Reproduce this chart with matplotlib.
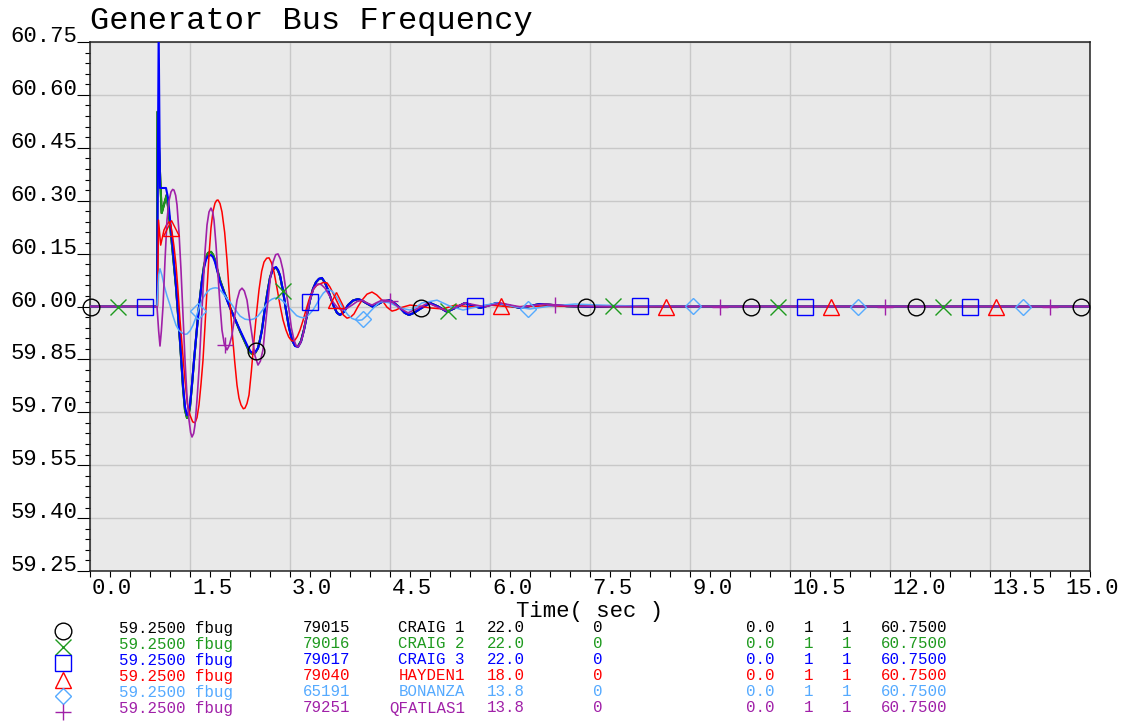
import numpy as np
import matplotlib
matplotlib.use("Agg")
import matplotlib.pyplot as plt
import matplotlib.transforms as mtransforms
from matplotlib.ticker import MultipleLocator, FormatStrFormatter

plt.rcParams.update({"font.family": ["Liberation Mono", "DejaVu Sans Mono"], "font.size": 16})

# (time s, frequency Hz)
craig3 = [
    (0.0, 60.000), (1.0, 60.000), (1.005, 60.000), (1.03, 60.780), (1.05, 60.336),
    (1.14, 60.336), (1.17, 60.308), (1.23, 60.189), (1.29, 60.061), (1.35, 59.905),
    (1.395, 59.777), (1.425, 59.715), (1.455, 59.692), (1.48, 59.700), (1.50, 59.721),
    (1.53, 59.780), (1.56, 59.848), (1.60, 59.930), (1.635, 59.999), (1.675, 60.065),
    (1.71, 60.109), (1.74, 60.133), (1.77, 60.143), (1.815, 60.146), (1.845, 60.140),
    (1.875, 60.126), (1.91, 60.100), (1.95, 60.070), (2.02, 60.035), (2.10, 59.996),
    (2.25, 59.933), (2.37, 59.885), (2.41, 59.872), (2.445, 59.868), (2.48, 59.871),
    (2.52, 59.882), (2.55, 59.905), (2.58, 59.933), (2.625, 59.995), (2.67, 60.047),
    (2.70, 60.080), (2.73, 60.098), (2.76, 60.109), (2.79, 60.112), (2.82, 60.104),
    (2.85, 60.089), (2.895, 60.045), (2.94, 59.990), (2.985, 59.940), (3.03, 59.905),
    (3.075, 59.888), (3.12, 59.885), (3.165, 59.900), (3.21, 59.933), (3.255, 59.975),
    (3.30, 60.018), (3.345, 60.050), (3.39, 60.069), (3.435, 60.079), (3.48, 60.081),
    (3.525, 60.068), (3.57, 60.047), (3.615, 60.022), (3.66, 59.999), (3.705, 59.982),
    (3.75, 59.976), (3.81, 59.985), (3.87, 60.004), (3.945, 60.017), (4.02, 60.021),
    (4.08, 60.017), (4.14, 60.010), (4.245, 59.999), (4.38, 60.013), (4.50, 60.018),
    (4.575, 60.008), (4.65, 59.996), (4.72, 59.982), (4.785, 59.976), (4.86, 59.982),
    (4.95, 59.993), (5.10, 60.010), (5.22, 60.000), (5.355, 59.985), (5.49, 59.997),
    (5.625, 60.010), (5.85, 59.996), (6.105, 60.010), (6.45, 59.996), (6.75, 60.007),
    (7.155, 60.001), (7.545, 59.999), (7.95, 60.001), (8.85, 60.000), (15.0, 60.000),
]

craig2 = [
    (0.0, 60.000), (1.0, 60.000), (1.005, 60.000), (1.0125, 60.552), (1.075, 60.265),
    (1.15, 60.316), (1.185, 60.259), (1.23, 60.174), (1.29, 60.055), (1.35, 59.900),
    (1.395, 59.770), (1.425, 59.706), (1.455, 59.684), (1.48, 59.694), (1.50, 59.716),
    (1.53, 59.778), (1.56, 59.845), (1.60, 59.930), (1.635, 60.000), (1.675, 60.068),
    (1.71, 60.115), (1.74, 60.140), (1.77, 60.152), (1.815, 60.155), (1.845, 60.147),
    (1.875, 60.132), (1.91, 60.104), (1.95, 60.075), (2.02, 60.037), (2.10, 59.998),
    (2.25, 59.930), (2.37, 59.880), (2.41, 59.868), (2.445, 59.865), (2.48, 59.869),
    (2.52, 59.882), (2.55, 59.906), (2.58, 59.935), (2.625, 59.997), (2.67, 60.050),
    (2.70, 60.082), (2.73, 60.100), (2.76, 60.108), (2.79, 60.110), (2.82, 60.102),
    (2.85, 60.087), (2.895, 60.044), (2.94, 59.990), (2.985, 59.941), (3.03, 59.905),
    (3.075, 59.889), (3.12, 59.887), (3.165, 59.902), (3.21, 59.935), (3.255, 59.976),
    (3.30, 60.018), (3.345, 60.050), (3.39, 60.069), (3.435, 60.078), (3.48, 60.080),
    (3.525, 60.067), (3.57, 60.047), (3.615, 60.022), (3.66, 59.999), (3.705, 59.982),
    (3.75, 59.976), (3.81, 59.985), (3.87, 60.004), (3.945, 60.017), (4.02, 60.021),
    (4.08, 60.017), (4.14, 60.010), (4.245, 59.999), (4.38, 60.013), (4.50, 60.018),
    (4.575, 60.008), (4.65, 59.996), (4.72, 59.982), (4.785, 59.976), (4.86, 59.982),
    (4.95, 59.993), (5.10, 60.010), (5.22, 60.000), (5.355, 59.985), (5.49, 59.997),
    (5.625, 60.010), (5.85, 59.996), (6.105, 60.010), (6.45, 59.996), (6.75, 60.007),
    (7.155, 60.001), (7.545, 59.999), (7.95, 60.001), (8.85, 60.000), (15.0, 60.000),
]

# CRAIG 1 runs underneath CRAIG 2 for the whole trace
craig1 = craig2

hayden1 = [
    (0.0, 60.000), (1.0, 60.000), (1.0125, 60.001), (1.0275, 60.245), (1.06, 60.174),
    (1.11, 60.217), (1.15, 60.232), (1.185, 60.240), (1.21, 60.232), (1.23, 60.211),
    (1.26, 60.170), (1.29, 60.118), (1.32, 60.045), (1.35, 59.962), (1.39, 59.870),
    (1.425, 59.790), (1.46, 59.725), (1.50, 59.692), (1.54, 59.673), (1.575, 59.670),
    (1.605, 59.685), (1.635, 59.721), (1.665, 59.780), (1.695, 59.848), (1.725, 59.945),
    (1.755, 60.047), (1.785, 60.145), (1.815, 60.223), (1.845, 60.270), (1.875, 60.293),
    (1.90, 60.301), (1.92, 60.302), (1.95, 60.292), (1.98, 60.268), (2.02, 60.210),
    (2.055, 60.132), (2.09, 60.035), (2.13, 59.933), (2.17, 59.845), (2.205, 59.777),
    (2.235, 59.740), (2.265, 59.721), (2.30, 59.710), (2.325, 59.712), (2.355, 59.725),
    (2.385, 59.749), (2.42, 59.815), (2.46, 59.905), (2.50, 59.985), (2.535, 60.047),
    (2.575, 60.100), (2.61, 60.126), (2.65, 60.137), (2.685, 60.138), (2.72, 60.125),
    (2.76, 60.098), (2.805, 60.052), (2.85, 60.004), (2.895, 59.962), (2.94, 59.933),
    (2.98, 59.914), (3.015, 59.905), (3.045, 59.902), (3.075, 59.905), (3.11, 59.915),
    (3.15, 59.933), (3.195, 59.960), (3.24, 59.990), (3.29, 60.022), (3.345, 60.047),
    (3.40, 60.060), (3.45, 60.064), (3.50, 60.068), (3.555, 60.067), (3.60, 60.055),
    (3.645, 60.038), (3.70, 60.016), (3.75, 59.996), (3.80, 59.976), (3.855, 59.967),
    (3.91, 59.970), (3.96, 59.979), (4.02, 60.000), (4.08, 60.018), (4.155, 60.035),
    (4.23, 60.041), (4.30, 60.033), (4.38, 60.018), (4.455, 59.998), (4.53, 59.987),
    (4.59, 59.990), (4.65, 59.996), (4.80, 60.004), (4.95, 60.001), (5.10, 59.996),
    (5.295, 59.993), (5.475, 60.004), (5.70, 59.999), (6.00, 60.004), (6.30, 59.999),
    (6.75, 60.001), (7.65, 60.000), (15.0, 60.000),
]

bonanza = [
    (0.0, 60.000), (1.0, 60.000), (1.005, 60.000), (1.03, 60.090), (1.05, 60.107),
    (1.08, 60.088), (1.11, 60.061), (1.155, 60.030), (1.20, 60.004), (1.245, 59.973),
    (1.29, 59.947), (1.335, 59.932), (1.38, 59.925), (1.42, 59.921), (1.455, 59.922),
    (1.50, 59.931), (1.545, 59.947), (1.60, 59.975), (1.65, 60.004), (1.70, 60.026),
    (1.755, 60.041), (1.80, 60.049), (1.845, 60.052), (1.88, 60.053), (1.92, 60.052),
    (1.97, 60.043), (2.025, 60.030), (2.06, 60.021), (2.10, 60.013), (2.175, 59.992),
    (2.25, 59.973), (2.325, 59.964), (2.40, 59.962), (2.46, 59.965), (2.52, 59.973),
    (2.58, 59.988), (2.64, 60.004), (2.685, 60.015), (2.73, 60.021), (2.775, 60.024),
    (2.82, 60.024), (2.87, 60.019), (2.925, 60.010), (2.985, 59.997), (3.045, 59.985),
    (3.10, 59.974), (3.15, 59.970), (3.195, 59.968), (3.24, 59.970), (3.29, 59.978),
    (3.345, 59.990), (3.40, 60.007), (3.45, 60.024), (3.50, 60.038), (3.555, 60.047),
    (3.60, 60.047), (3.645, 60.041), (3.70, 60.027), (3.75, 60.010), (3.81, 59.991),
    (3.87, 59.976), (3.93, 59.966), (3.99, 59.962), (4.035, 59.961), (4.08, 59.962),
    (4.14, 59.972), (4.20, 59.985), (4.275, 60.000), (4.35, 60.013), (4.42, 60.013),
    (4.50, 60.010), (4.65, 59.996), (4.80, 59.990), (4.89, 59.998), (4.98, 60.010),
    (5.205, 60.018), (5.40, 60.001), (5.595, 59.990), (5.85, 60.001), (6.105, 60.010),
    (6.375, 59.999), (6.60, 59.993), (6.90, 60.001), (7.275, 60.007), (7.65, 60.004),
    (8.25, 60.001), (9.15, 60.000), (15.0, 60.000),
]

qfatlas1 = [
    (0.0, 60.000), (1.0, 60.000), (1.005, 60.000), (1.03, 59.930), (1.05, 59.888),
    (1.07, 59.930), (1.095, 60.000), (1.125, 60.130), (1.155, 60.245), (1.185, 60.300),
    (1.215, 60.325), (1.24, 60.332), (1.26, 60.330), (1.285, 60.315), (1.305, 60.288),
    (1.335, 60.210), (1.365, 60.103), (1.395, 59.975), (1.425, 59.848), (1.455, 59.745),
    (1.485, 59.678), (1.51, 59.642), (1.53, 59.630), (1.555, 59.640), (1.575, 59.664),
    (1.605, 59.735), (1.635, 59.820), (1.665, 59.935), (1.695, 60.047), (1.725, 60.155),
    (1.755, 60.231), (1.785, 60.268), (1.815, 60.279), (1.84, 60.268), (1.86, 60.245),
    (1.89, 60.175), (1.92, 60.089), (1.95, 60.005), (1.98, 59.933), (2.015, 59.893),
    (2.055, 59.877), (2.09, 59.890), (2.13, 59.919), (2.165, 59.965), (2.205, 60.018),
    (2.245, 60.045), (2.28, 60.052), (2.315, 60.044), (2.355, 60.018), (2.39, 59.970),
    (2.43, 59.919), (2.475, 59.860), (2.52, 59.834), (2.555, 59.845), (2.595, 59.877),
    (2.63, 59.945), (2.67, 60.018), (2.705, 60.080), (2.745, 60.126), (2.785, 60.147),
    (2.82, 60.149), (2.855, 60.135), (2.895, 60.103), (2.94, 60.045), (2.985, 59.990),
    (3.02, 59.940), (3.06, 59.905), (3.09, 59.890), (3.12, 59.885), (3.155, 59.895),
    (3.195, 59.919), (3.245, 59.970), (3.30, 60.018), (3.36, 60.053), (3.42, 60.064),
    (3.47, 60.062), (3.525, 60.052), (3.585, 60.033), (3.645, 60.013), (3.71, 59.997),
    (3.78, 59.990), (3.855, 59.995), (3.93, 60.004), (4.005, 60.014), (4.08, 60.018),
    (4.155, 60.010), (4.23, 60.004), (4.30, 60.011), (4.38, 60.018), (4.455, 60.018),
    (4.53, 60.013), (4.65, 59.995), (4.77, 59.982), (4.92, 59.995), (5.07, 60.010),
    (5.355, 59.987), (5.625, 60.010), (5.925, 59.999), (6.15, 60.010), (6.45, 59.999),
    (6.825, 60.007), (7.20, 60.001), (7.95, 60.000), (15.0, 60.000),
]

series = [craig1, craig2, craig3, hayden1, bonanza, qfatlas1]
names = ["CRAIG 1", "CRAIG 2", "CRAIG 3", "HAYDEN1", "BONANZA", "QFATLAS1"]
buses = ["79015", "79016", "79017", "79040", "65191", "79251"]
kvs = ["22.0", "22.0", "22.0", "18.0", "13.8", "13.8"]
colors = ["#000000", "#1e9a1e", "#0000ff", "#ff0000", "#55aaff", "#a020a8"]
markers = ["o", "x", "s", "^", "D", "+"]
msizes = [12, 12, 11.5, 12, 8, 12]
lwidths = [1.5, 1.5, 1.5, 1.1, 1.1, 1.2]

ymin, ymax = 59.25, 60.75
xmin, xmax = 0.0, 15.0

fig = plt.figure(figsize=(11.25, 7.23), dpi=100)
W, H = 1125, 723
ax = fig.add_axes([90 / W, 1 - 571 / H, 1000 / W, 529 / H])
ax.set_facecolor("#e9e9e9")

for i, (data, c) in enumerate(zip(series, colors)):
    t, f = np.array(data).T
    ax.plot(t, f, color=c, lw=lwidths[i], zorder=3 + i * 0.1)
    # symbols are stepped along each trace, staggered between traces
    mt = np.arange(0.02 + 0.4 * i, xmax, 2.475)
    ax.plot(mt, np.interp(mt, t, f), ls="none", marker=markers[i], ms=msizes[i],
            mfc="none", mec=c, mew=1.0, clip_on=False, zorder=5)

ax.set_xlim(xmin, xmax)
ax.set_ylim(ymin, ymax)
ax.set_xticks(np.arange(0, 15.01, 1.5))
ax.set_yticks(np.arange(59.25, 60.76, 0.15))
ax.xaxis.set_minor_locator(MultipleLocator(0.3))
ax.yaxis.set_minor_locator(MultipleLocator(0.03))
ax.xaxis.set_major_formatter(FormatStrFormatter("%.1f"))
ax.yaxis.set_major_formatter(FormatStrFormatter("%.2f"))
ax.tick_params(axis="x", which="both", direction="out", length=4.3, width=0.8, pad=1, labelsize=16)
ax.tick_params(axis="y", which="major", direction="out", length=9.4, width=0.8, pad=0, labelsize=16)
ax.tick_params(axis="y", which="minor", direction="out", length=3.6, width=0.8)
ax.grid(True, which="major", color="#c8c8c8", lw=1.0)
ax.set_axisbelow(True)
for sp in ax.spines.values():
    sp.set_linewidth(1.1)
    sp.set_color("#222222")

xlabs = ax.get_xticklabels()
for lab in xlabs:
    lab.set_ha("left")
    lab.set_transform(lab.get_transform() + mtransforms.ScaledTranslation(0.02, 0, fig.dpi_scale_trans))
xlabs[-1].set_transform(xlabs[-1].get_transform() + mtransforms.ScaledTranslation(-0.27, 0, fig.dpi_scale_trans))
for lab in ax.get_yticklabels():
    lab.set_va("baseline")

ax.set_xlabel("Time( sec )", fontsize=16, labelpad=1)
fig.text(90 / W, 1 - 29 / H, "Generator Bus Frequency", fontsize=23, va="baseline")

# channel list below the chart, in pixel coordinates
lax = fig.add_axes([0, 0, 1, 1])
lax.set_xlim(0, W)
lax.set_ylim(H, 0)
lax.axis("off")
for i in range(len(series)):
    c = colors[i]
    yb = 632.5 + 16 * i
    lax.plot([62.5], [631 + 16.2 * i], marker=markers[i], ms=msizes[i], mfc="none",
             mec=c, mew=1.0, ls="none", clip_on=False)
    kw = dict(color=c, fontsize=11.3, va="baseline")
    lax.text(119, yb, f"{ymin:.4f} fbug", ha="left", **kw)
    lax.text(303, yb, buses[i], ha="left", **kw)
    lax.text(465, yb, names[i], ha="right", **kw)
    lax.text(487, yb, kvs[i], ha="left", **kw)
    lax.text(593, yb, "0", ha="left", **kw)
    lax.text(746, yb, "0.0", ha="left", **kw)
    lax.text(804, yb, "1", ha="left", **kw)
    lax.text(842, yb, "1", ha="left", **kw)
    lax.text(881, yb, f"{ymax:.4f}", ha="left", **kw)

fig.savefig("out.png", dpi=100)
